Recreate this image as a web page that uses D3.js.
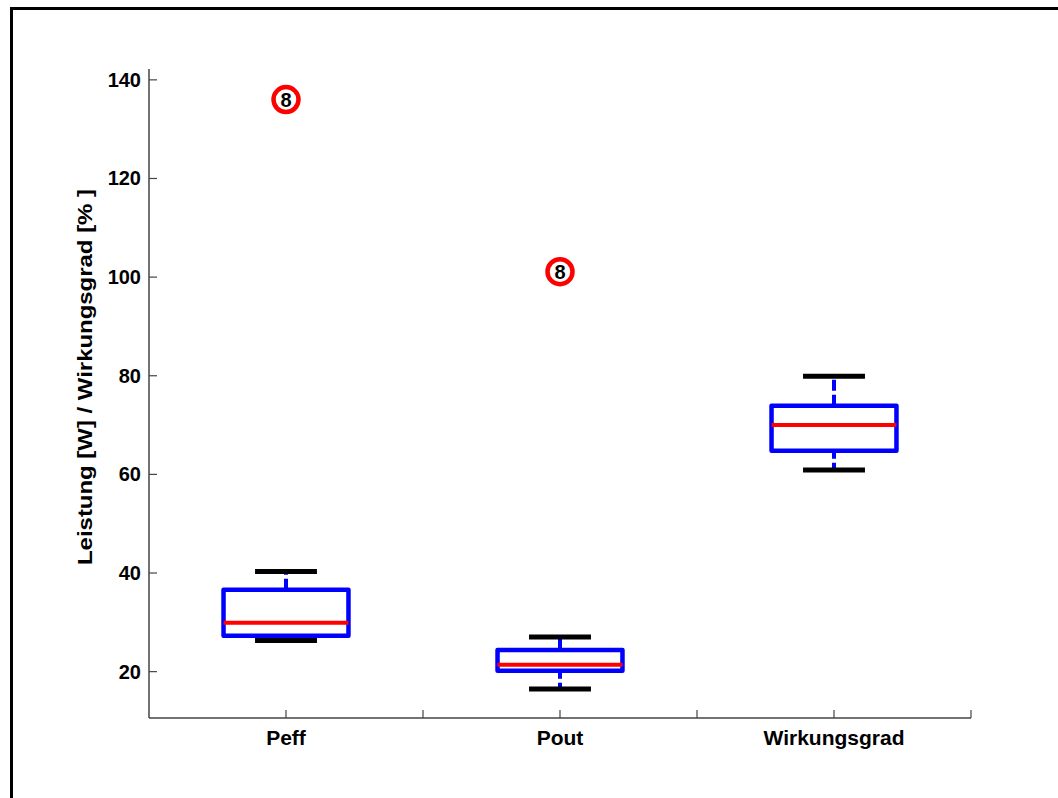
<!DOCTYPE html>
<html lang="en">
<head>
    <meta charset="UTF-8"/>
    <title>Boxplot Leistung / Wirkungsgrad</title>
    <script src="https://d3js.org/d3.v7.min.js"></script>
    <style>
        body, html {
            margin: 0;
            padding: 0;
            background: #fff;
            overflow: hidden;
        }
        svg text {
            font-family: "Liberation Sans", Arial, sans-serif;
            font-weight: bold;
            fill: #000;
        }
    </style>
</head>
<body>
<svg id="chart" width="1058" height="798"></svg>
<script>
    // values
    const categories = ["Peff", "Pout", "Wirkungsgrad"];
    const lowerWhisker = [26.3, 16.5, 60.9];
    const q1 = [27.3, 20.2, 64.8];
    const medians = [29.9, 21.4, 70.0];
    const q3 = [36.6, 24.4, 73.9];
    const upperWhisker = [40.3, 27.0, 79.9];
    const outliers = [[136.0], [101.1], []];
    const yTicks = [20, 40, 60, 80, 100, 120, 140];
    const xTicks = [1, 1.5, 2, 2.5, 3, 3.5];

    const svg = d3.select("#chart");

    // outer frame
    svg.append("rect")
        .attr("x", 11.5).attr("y", 8.5)
        .attr("width", 1100).attr("height", 900)
        .attr("fill", "none")
        .attr("stroke", "#000")
        .attr("stroke-width", 3);

    const x = d3.scaleLinear().domain([0.5, 3.5]).range([149, 971]);
    const y = d3.scaleLinear().domain([10.6, 142.2]).range([718, 69]);

    const axisColor = "#444";
    const fs = 20;

    // y axis
    svg.append("line")
        .attr("x1", x(0.5)).attr("x2", x(0.5))
        .attr("y1", y.range()[1]).attr("y2", y.range()[0])
        .attr("stroke", axisColor).attr("stroke-width", 1.5);
    const yg = svg.append("g");
    yTicks.forEach(t => {
        yg.append("line")
            .attr("x1", x(0.5)).attr("x2", x(0.5) + 8)
            .attr("y1", y(t)).attr("y2", y(t))
            .attr("stroke", axisColor).attr("stroke-width", 1.2);
        yg.append("text")
            .attr("x", x(0.5) - 8)
            .attr("y", y(t))
            .attr("dy", "0.35em")
            .attr("text-anchor", "end")
            .attr("font-size", fs)
            .text(t);
    });

    // x axis
    svg.append("line")
        .attr("x1", x(0.5)).attr("x2", x(3.5))
        .attr("y1", y.range()[0]).attr("y2", y.range()[0])
        .attr("stroke", axisColor).attr("stroke-width", 1.5);
    xTicks.forEach(t => {
        svg.append("line")
            .attr("x1", x(t)).attr("x2", x(t))
            .attr("y1", y.range()[0]).attr("y2", y.range()[0] - 8)
            .attr("stroke", axisColor).attr("stroke-width", 1.2);
    });
    categories.forEach((c, i) => {
        svg.append("text")
            .attr("x", x(i + 1))
            .attr("y", 745)
            .attr("text-anchor", "middle")
            .attr("font-size", fs + 1)
            .text(c);
    });

    // y axis label
    svg.append("text")
        .attr("transform", "translate(92,377) rotate(-90)")
        .attr("text-anchor", "middle")
        .attr("font-size", fs + 1)
        .attr("textLength", 376)
        .attr("lengthAdjust", "spacingAndGlyphs")
        .text("Leistung [W] / Wirkungsgrad [% ]");

    // boxes
    const boxHalf = 0.228;
    const capHalf = 0.113;
    const g = svg.append("g");

    categories.forEach((c, i) => {
        const cx = i + 1;

        // whiskers (dashed)
        g.append("line")
            .attr("x1", x(cx)).attr("x2", x(cx))
            .attr("y1", y(q3[i])).attr("y2", y(upperWhisker[i]))
            .attr("stroke", "#0000ff").attr("stroke-width", 4)
            .attr("stroke-dasharray", "11,4");
        g.append("line")
            .attr("x1", x(cx)).attr("x2", x(cx))
            .attr("y1", y(q1[i])).attr("y2", y(lowerWhisker[i]))
            .attr("stroke", "#0000ff").attr("stroke-width", 4)
            .attr("stroke-dasharray", "8,4");

        // caps
        [upperWhisker[i], lowerWhisker[i]].forEach(v => {
            g.append("line")
                .attr("x1", x(cx - capHalf)).attr("x2", x(cx + capHalf))
                .attr("y1", y(v)).attr("y2", y(v))
                .attr("stroke", "#000").attr("stroke-width", 5);
        });

        // box
        g.append("rect")
            .attr("x", x(cx - boxHalf))
            .attr("y", y(q3[i]))
            .attr("width", x(cx + boxHalf) - x(cx - boxHalf))
            .attr("height", y(q1[i]) - y(q3[i]))
            .attr("fill", "none")
            .attr("stroke", "#0000ff")
            .attr("stroke-width", 4.5)
            .attr("stroke-linejoin", "round");

        // median
        g.append("line")
            .attr("x1", x(cx - boxHalf)).attr("x2", x(cx + boxHalf))
            .attr("y1", y(medians[i])).attr("y2", y(medians[i]))
            .attr("stroke", "#ff0000").attr("stroke-width", 4);

        // outliers
        outliers[i].forEach(v => {
            g.append("circle")
                .attr("cx", x(cx)).attr("cy", y(v))
                .attr("r", 12.5)
                .attr("fill", "#fff")
                .attr("stroke", "#ff0000")
                .attr("stroke-width", 4.5);
            g.append("text")
                .attr("x", x(cx)).attr("y", y(v))
                .attr("dy", "0.36em")
                .attr("text-anchor", "middle")
                .attr("font-size", 20)
                .text("8");
        });
    });
</script>
</body>
</html>
